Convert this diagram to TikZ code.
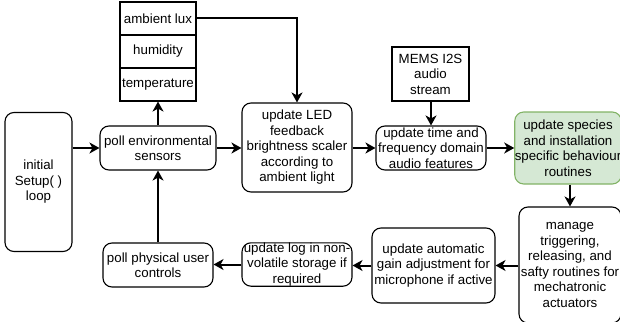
\documentclass[tikz,border=0pt]{standalone}
\usepackage{fontspec}
\setmainfont{Liberation Sans}
\usetikzlibrary{arrows.meta}

\definecolor{stepgreen}{HTML}{D5E8D4}
\definecolor{stepgreenline}{HTML}{82B366}

\begin{document}
\begin{tikzpicture}[x=1pt, y=-1pt,
    every node/.style={font=\fontsize{13.3}{15.5}\selectfont, align=center, inner sep=0pt},
    stepbox/.style={draw, line width=1.1pt, rounded corners=9pt},
    sensorbox/.style={draw, line width=1.1pt, minimum width=76pt, minimum height=33pt},
    flow/.style={line width=2pt, -{Stealth[length=10pt, width=11pt, inset=3pt]}}]

    \useasboundingbox (0,0) rectangle (620,321);

    % left column
    \node[stepbox, minimum width=67pt, minimum height=139pt] (init) at (38.5,182) {initial\\Setup( )\\loop};
    \node[stepbox, minimum width=116pt, minimum height=44pt] (penv) at (158,148) {poll environmental\\sensors};
    \node[stepbox, minimum width=110pt, minimum height=44pt] (ctrl) at (158,265) {poll physical user\\controls};

    % sensor stack
    \node[sensorbox] (lux) at (158,18.5) {ambient lux};
    \node[sensorbox] (hum) at (158,51.5) {humidity};
    \node[sensorbox] (temp) at (158,84.5) {temperature};

    % middle
    \node[stepbox, minimum width=110pt, minimum height=89pt] (led) at (297,147.5) {update LED\\feedback\\brightness scaler\\according to\\ambient light};
    \node[stepbox, minimum width=110pt, minimum height=43pt] (log) at (297,264.5) {update log in non-\\volatile storage if\\required};
    \node[draw, line width=1.1pt, minimum width=77pt, minimum height=54pt] (mems) at (430.5,74) {MEMS I2S\\audio\\stream};
    \node[stepbox, minimum width=110pt, minimum height=44pt] (audio) at (431,148) {update time and\\frequency domain\\audio features};
    \node[stepbox, minimum width=123pt, minimum height=75pt] (agc) at (433.5,265.5) {update automatic\\gain adjustment for\\microphone if active};

    % right column
    \node[stepbox, fill=stepgreen, draw=stepgreenline, minimum width=106pt, minimum height=72pt] (species) at (568,148) {update species\\and installation\\specific behaviour\\routines};
    \node[stepbox, minimum width=102pt, minimum height=116pt] (manage) at (570,265) {manage\\triggering,\\releasing, and\\safty routines for\\mechatronic\\actuators};

    \draw[flow] (init.east |- penv.west) -- (penv.west);
    \draw[flow] (penv.north) -- (temp.south);
    \draw[flow] (lux.east) -| (led.north);
    \draw[flow] (penv.east) -- (penv.east -| led.west);
    \draw[flow] (led.east |- audio.west) -- (audio.west);
    \draw[flow] (mems.south -| audio.north) -- (audio.north);
    \draw[flow] (audio.east) -- (audio.east -| species.west);
    \draw[flow] (manage.north |- species.south) -- (manage.north);
    \draw[flow] (manage.west |- agc.east) -- (agc.east);
    \draw[flow] (agc.west) -- (agc.west -| log.east);
    \draw[flow] (log.west) -- (log.west -| ctrl.east);
    \draw[flow] (ctrl.north) -- (penv.south);

\end{tikzpicture}
\end{document}
